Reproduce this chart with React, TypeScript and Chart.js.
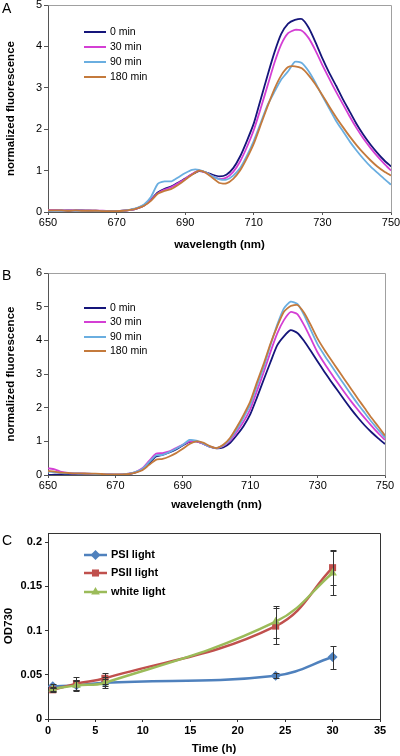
import React, { useEffect, useRef } from "react";
import { Chart, registerables } from "chart.js";

Chart.register(...registerables);

// ---------- DATA ----------
const WAVELENGTH_NM = [
  650, 652, 654, 656, 658, 660, 662, 664, 666, 668,
  670, 672, 674, 676, 678, 680, 682, 684, 686, 688,
  690, 692, 694, 696, 698, 700, 702, 704, 706, 708,
  710, 712, 714, 716, 718, 720, 722, 724, 726, 728,
  730, 732, 734, 736, 738, 740, 742, 744, 746, 748,
  750,
];

const SPECTRUM_LABELS = ["0 min", "30 min", "90 min", "180 min"];

// Panel A
const A_0MIN = [
  0.03, 0.04, 0.04, 0.03, 0.04, 0.04, 0.03, 0.03, 0.02, 0.02,
  0.02, 0.03, 0.05, 0.09, 0.16, 0.30, 0.47, 0.56, 0.62, 0.71,
  0.81, 0.91, 0.99, 0.96, 0.90, 0.86, 0.90, 1.06, 1.34, 1.72,
  2.14, 2.72, 3.30, 3.85, 4.30, 4.55, 4.64, 4.66, 4.45, 4.10,
  3.71, 3.36, 3.05, 2.72, 2.42, 2.12, 1.86, 1.63, 1.43, 1.25,
  1.10,
];
const A_30MIN = [
  0.05, 0.05, 0.04, 0.05, 0.04, 0.04, 0.04, 0.03, 0.03, 0.02,
  0.02, 0.03, 0.05, 0.09, 0.16, 0.29, 0.45, 0.54, 0.60, 0.70,
  0.80, 0.92, 1.00, 0.95, 0.86, 0.80, 0.83, 0.97, 1.22, 1.57,
  1.98, 2.50, 3.05, 3.60, 4.05, 4.32, 4.40, 4.38, 4.20, 3.90,
  3.55, 3.22, 2.90, 2.60, 2.30, 2.02, 1.77, 1.55, 1.35, 1.17,
  1.00,
];
const A_90MIN = [
  0.03, 0.03, 0.03, 0.04, 0.03, 0.03, 0.03, 0.02, 0.02, 0.02,
  0.02, 0.03, 0.06, 0.10, 0.18, 0.36, 0.68, 0.74, 0.74, 0.84,
  0.94, 1.02, 1.02, 0.96, 0.86, 0.79, 0.78, 0.88, 1.06, 1.36,
  1.72, 2.15, 2.58, 2.90, 3.20, 3.40, 3.63, 3.60, 3.40, 3.12,
  2.80, 2.50, 2.20, 1.95, 1.70, 1.48, 1.28, 1.10, 0.95, 0.80,
  0.66,
];
const A_180MIN = [
  0.04, 0.04, 0.04, 0.03, 0.04, 0.03, 0.03, 0.03, 0.02, 0.02,
  0.02, 0.03, 0.05, 0.09, 0.15, 0.27, 0.44, 0.51, 0.56, 0.66,
  0.78, 0.90, 1.00, 0.95, 0.82, 0.70, 0.69, 0.80, 1.00, 1.30,
  1.65, 2.10, 2.55, 2.97, 3.30, 3.50, 3.52, 3.47, 3.30, 3.08,
  2.82, 2.55, 2.29, 2.05, 1.82, 1.61, 1.42, 1.25, 1.10, 0.98,
  0.88,
];

// Panel B
const B_0MIN = [
  0.00, 0.01, 0.02, 0.02, 0.02, 0.02, 0.02, 0.01, 0.01, 0.01,
  0.01, 0.01, 0.03, 0.08, 0.17, 0.35, 0.55, 0.60, 0.67, 0.76,
  0.88, 0.98, 1.00, 0.93, 0.84, 0.79, 0.82, 0.95, 1.18, 1.45,
  1.80, 2.30, 2.83, 3.35, 3.85, 4.12, 4.30, 4.22, 3.98, 3.68,
  3.37, 3.07, 2.78, 2.50, 2.22, 1.95, 1.70, 1.47, 1.27, 1.09,
  0.92,
];
const B_30MIN = [
  0.20, 0.17, 0.09, 0.06, 0.05, 0.05, 0.04, 0.03, 0.02, 0.02,
  0.01, 0.02, 0.04, 0.09, 0.20, 0.42, 0.63, 0.65, 0.70, 0.80,
  0.90, 1.00, 1.00, 0.93, 0.84, 0.80, 0.86, 1.02, 1.28, 1.58,
  1.95, 2.50, 3.05, 3.65, 4.20, 4.60, 4.84, 4.78, 4.45, 4.05,
  3.64, 3.32, 3.02, 2.73, 2.45, 2.18, 1.93, 1.69, 1.46, 1.24,
  1.04,
];
const B_90MIN = [
  0.10, 0.08, 0.06, 0.05, 0.05, 0.04, 0.04, 0.03, 0.02, 0.02,
  0.01, 0.02, 0.04, 0.09, 0.18, 0.38, 0.58, 0.60, 0.68, 0.78,
  0.90, 1.04, 1.02, 0.94, 0.84, 0.80, 0.88, 1.06, 1.35, 1.70,
  2.08, 2.65, 3.20, 3.85, 4.46, 4.95, 5.15, 5.08, 4.75, 4.30,
  3.88, 3.56, 3.26, 2.96, 2.67, 2.38, 2.10, 1.84, 1.58, 1.34,
  1.11,
];
const B_180MIN = [
  0.12, 0.10, 0.07, 0.06, 0.05, 0.05, 0.04, 0.04, 0.03, 0.02,
  0.02, 0.02, 0.03, 0.07, 0.14, 0.30, 0.45, 0.48, 0.55, 0.65,
  0.78, 0.92, 1.00, 0.96, 0.86, 0.80, 0.90, 1.10, 1.42, 1.78,
  2.18, 2.75, 3.30, 3.90, 4.41, 4.85, 5.02, 5.05, 4.82, 4.45,
  4.05, 3.72, 3.42, 3.13, 2.84, 2.55, 2.26, 1.98, 1.70, 1.44,
  1.17,
];

// Panel C
const TIME_H = [0.5, 3, 6, 24, 30];
const GROWTH_LABELS = ["PSI light", "PSII light", "white light"];
const PSI_OD = [0.037, 0.038, 0.041, 0.049, 0.070];
const PSI_ERR = [0.002, 0.005, 0.004, 0.003, 0.013];
const PSII_OD = [0.033, 0.040, 0.046, 0.105, 0.171];
const PSII_ERR = [0.002, 0.007, 0.006, 0.020, 0.020];
const WHITE_OD = [0.034, 0.038, 0.041, 0.110, 0.165];
const WHITE_ERR = [0.002, 0.006, 0.006, 0.018, 0.025];

// ---------- STYLE ----------
const FONT = "'Liberation Sans', Arial, Helvetica, sans-serif";
const SPECTRUM_COLORS = ["#15157a", "#d43fd4", "#6aaee0", "#c47a3c"];
const GROWTH_COLORS = ["#4f81bd", "#c0504d", "#9bbb59"];
const GROWTH_POINTS = ["rectRot", "rect", "triangle"];

Chart.defaults.font.family = FONT;

// ---------- PLUGINS ----------
const framePlugin = {
  id: "frame",
  afterDatasetsDraw(chart: any, _args: any, opts: any) {
    const { ctx, chartArea: a } = chart;
    const L = Math.round(a.left) + 0.5;
    const R = Math.round(a.right) + 0.5;
    const T = Math.round(a.top) + 0.5;
    const B = Math.round(a.bottom) + 0.5;
    ctx.save();
    ctx.strokeStyle = opts.color;
    ctx.lineWidth = 1;
    ctx.beginPath();
    const sides: string[] = opts.sides;
    if (sides.includes("top")) { ctx.moveTo(L, T); ctx.lineTo(R, T); }
    if (sides.includes("right")) { ctx.moveTo(R, T); ctx.lineTo(R, B); }
    if (sides.includes("left")) { ctx.moveTo(L, T); ctx.lineTo(L, B); }
    if (sides.includes("bottom")) { ctx.moveTo(L, B); ctx.lineTo(R, B); }
    ctx.stroke();
    ctx.restore();
  },
};

function drawMarker(ctx: CanvasRenderingContext2D, style: string, x: number, y: number, r: number, color: string) {
  ctx.fillStyle = color;
  ctx.beginPath();
  if (style === "rectRot") {
    ctx.moveTo(x, y - r);
    ctx.lineTo(x + r, y);
    ctx.lineTo(x, y + r);
    ctx.lineTo(x - r, y);
  } else if (style === "rect") {
    const s = r * Math.SQRT1_2;
    ctx.rect(x - s, y - s, 2 * s, 2 * s);
  } else if (style === "triangle") {
    ctx.moveTo(x, y - r);
    ctx.lineTo(x + r * 0.866, y + r * 0.5);
    ctx.lineTo(x - r * 0.866, y + r * 0.5);
  }
  ctx.closePath();
  ctx.fill();
}

const insideLegend = {
  id: "insideLegend",
  afterDatasetsDraw(chart: any, _args: any, opts: any) {
    const ctx: CanvasRenderingContext2D = chart.ctx;
    chart.data.datasets.forEach((ds: any, i: number) => {
      const y = opts.rows[i];
      ctx.save();
      ctx.strokeStyle = ds.borderColor;
      ctx.lineWidth = opts.lineWidth;
      ctx.beginPath();
      ctx.moveTo(opts.x0, y);
      ctx.lineTo(opts.x1, y);
      ctx.stroke();
      if (opts.markers) {
        drawMarker(ctx, ds.pointStyle, (opts.x0 + opts.x1) / 2, y, ds.pointRadius, ds.backgroundColor);
      }
      ctx.fillStyle = "#000";
      ctx.font = opts.font;
      ctx.textBaseline = "middle";
      ctx.textAlign = "left";
      ctx.fillText(ds.label, opts.textX, y);
      ctx.restore();
    });
  },
};

const errorBarsPlugin = {
  id: "errorBars",
  afterDatasetsDraw(chart: any, _args: any, opts: any) {
    const { ctx, scales } = chart;
    const xs = scales.x;
    const ys = scales.y;
    ctx.save();
    ctx.strokeStyle = opts.color;
    ctx.lineWidth = 1;
    chart.data.datasets.forEach((ds: any, i: number) => {
      const errs: number[] = opts.errors[i];
      ds.data.forEach((p: any, j: number) => {
        const px = Math.round(xs.getPixelForValue(p.x)) + 0.5;
        const yt = Math.round(ys.getPixelForValue(p.y + errs[j])) + 0.5;
        const yb = Math.round(ys.getPixelForValue(p.y - errs[j])) + 0.5;
        ctx.beginPath();
        ctx.moveTo(px, yt);
        ctx.lineTo(px, yb);
        ctx.moveTo(px - opts.cap, yt);
        ctx.lineTo(px + opts.cap, yt);
        ctx.moveTo(px - opts.cap, yb);
        ctx.lineTo(px + opts.cap, yb);
        ctx.stroke();
      });
    });
    ctx.restore();
  },
};

// ---------- CONFIGS ----------
function spectrumConfig(
  series: number[][],
  yMax: number,
  padTop: number,
  padRight: number,
  xAxisHeight: number,
  legendRows: number[]
): any {
  const axisColor = "#555";
  return {
    type: "line",
    data: {
      datasets: series.map((vals, i) => ({
        label: SPECTRUM_LABELS[i],
        data: WAVELENGTH_NM.map((w, k) => ({ x: w, y: vals[k] })),
        borderColor: SPECTRUM_COLORS[i],
        backgroundColor: SPECTRUM_COLORS[i],
        borderWidth: 1.8,
        pointRadius: 0,
        tension: 0.2,
        fill: false,
        order: series.length - i,
      })),
    },
    options: {
      responsive: false,
      animation: false,
      devicePixelRatio: 1,
      events: [],
      layout: { padding: { top: padTop, right: padRight, left: 0, bottom: 0 } },
      plugins: {
        legend: { display: false },
        tooltip: { enabled: false },
        frame: { color: "#a0a0a0", sides: ["top", "right"] },
        insideLegend: {
          rows: legendRows,
          x0: 84,
          x1: 106,
          textX: 110,
          lineWidth: 2,
          markers: false,
          font: `10.5px ${FONT}`,
        },
      },
      scales: {
        x: {
          type: "linear",
          min: 650,
          max: 750,
          ticks: { stepSize: 20, color: "#000", padding: 1, font: { size: 11 } },
          grid: { drawOnChartArea: false, drawTicks: true, tickLength: 3, color: axisColor },
          border: { display: true, color: axisColor },
          title: {
            display: true,
            text: "wavelength (nm)",
            color: "#000",
            font: { size: 11.5, weight: "bold" },
            padding: 0,
          },
          afterFit(s: any) {
            s.height = xAxisHeight;
            s.paddingLeft = 0;
            s.paddingRight = 0;
          },
        },
        y: {
          type: "linear",
          min: 0,
          max: yMax,
          ticks: { stepSize: 1, color: "#000", padding: 2, font: { size: 11 } },
          grid: { drawOnChartArea: false, drawTicks: true, tickLength: 4, color: axisColor },
          border: { display: true, color: axisColor },
          title: {
            display: true,
            text: "normalized fluorescence",
            color: "#000",
            font: { size: 11.5, weight: "bold" },
            padding: { top: 4, bottom: 0 },
          },
          afterFit(s: any) {
            s.width = 48;
            s.paddingTop = 0;
            s.paddingBottom = 0;
          },
        },
      },
    },
    plugins: [framePlugin, insideLegend],
  };
}

function makeA() {
  return spectrumConfig([A_0MIN, A_30MIN, A_90MIN, A_180MIN], 5, 5, 9, 40, [32, 47, 62, 77]);
}

function makeB() {
  return spectrumConfig([B_0MIN, B_30MIN, B_90MIN, B_180MIN], 6, 23, 15, 37, [58, 72, 87, 101]);
}

function makeC(): any {
  const series = [PSI_OD, PSII_OD, WHITE_OD];
  const axisColor = "#333";
  return {
    type: "line",
    data: {
      datasets: series.map((vals, i) => ({
        label: GROWTH_LABELS[i],
        data: TIME_H.map((t, k) => ({ x: t, y: vals[k] })),
        borderColor: GROWTH_COLORS[i],
        backgroundColor: GROWTH_COLORS[i],
        borderWidth: 2.5,
        pointStyle: GROWTH_POINTS[i],
        pointRadius: 5,
        pointBorderWidth: 0,
        tension: 0.4,
        fill: false,
        order: series.length - i,
      })),
    },
    options: {
      responsive: false,
      animation: false,
      devicePixelRatio: 1,
      events: [],
      layout: { padding: { top: 21, right: 20, left: 0, bottom: 0 } },
      plugins: {
        legend: { display: false },
        tooltip: { enabled: false },
        frame: { color: axisColor, sides: ["top", "right"] },
        errorBars: { errors: [PSI_ERR, PSII_ERR, WHITE_ERR], color: "#333", cap: 3 },
        insideLegend: {
          rows: [43, 61, 80],
          x0: 84,
          x1: 107,
          textX: 111,
          lineWidth: 2.5,
          markers: true,
          font: `bold 11px ${FONT}`,
        },
      },
      scales: {
        x: {
          type: "linear",
          min: 0,
          max: 35,
          ticks: { stepSize: 5, color: "#000", padding: 2, font: { size: 11, weight: "bold" } },
          grid: { drawOnChartArea: false, drawTicks: true, tickLength: 3, color: axisColor },
          border: { display: true, color: axisColor },
          title: {
            display: true,
            text: "Time (h)",
            color: "#000",
            font: { size: 11.5, weight: "bold" },
            padding: { top: 0, bottom: 0 },
          },
          afterFit(s: any) {
            s.height = 37;
            s.paddingLeft = 0;
            s.paddingRight = 0;
          },
        },
        y: {
          type: "linear",
          min: 0,
          max: 0.2102,
          ticks: {
            stepSize: 0.05,
            includeBounds: false,
            color: "#000",
            padding: 3,
            font: { size: 11, weight: "bold" },
            callback: (v: any) => String(Number(Number(v).toFixed(3))),
          },
          afterBuildTicks(s: any) {
            s.ticks = s.ticks.filter((t: any) => t.value <= 0.2 + 1e-9);
          },
          grid: { drawOnChartArea: false, drawTicks: true, tickLength: 3, color: axisColor },
          border: { display: true, color: axisColor },
          title: {
            display: true,
            text: "OD730",
            color: "#000",
            font: { size: 11.5, weight: "bold" },
            padding: { top: 2, bottom: 0 },
          },
          afterFit(s: any) {
            s.width = 48;
            s.paddingTop = 0;
            s.paddingBottom = 0;
          },
        },
      },
    },
    plugins: [framePlugin, errorBarsPlugin, insideLegend],
  };
}

// ---------- COMPONENTS ----------
function ChartCanvas({ make, top, height }: { make: () => any; top: number; height: number }) {
  const ref = useRef<HTMLCanvasElement>(null);
  useEffect(() => {
    if (!ref.current) return;
    const chart = new Chart(ref.current, make());
    return () => chart.destroy();
  }, [make]);
  return (
    <canvas
      ref={ref}
      width={400}
      height={height}
      style={{ position: "absolute", left: 0, top, width: 400, height, display: "block" }}
    />
  );
}

const letterStyle = (top: number): React.CSSProperties => ({
  position: "absolute",
  left: 2,
  top,
  fontFamily: FONT,
  fontSize: 14,
  lineHeight: "14px",
  color: "#000",
});

export default function App() {
  return (
    <div style={{ position: "absolute", left: 0, top: 0, width: 400, height: 756, background: "#fff" }}>
      <ChartCanvas make={makeA} top={0} height={252} />
      <ChartCanvas make={makeB} top={250} height={262} />
      <ChartCanvas make={makeC} top={512} height={244} />
      <div style={letterStyle(1)}>A</div>
      <div style={letterStyle(268)}>B</div>
      <div style={letterStyle(533)}>C</div>
    </div>
  );
}
